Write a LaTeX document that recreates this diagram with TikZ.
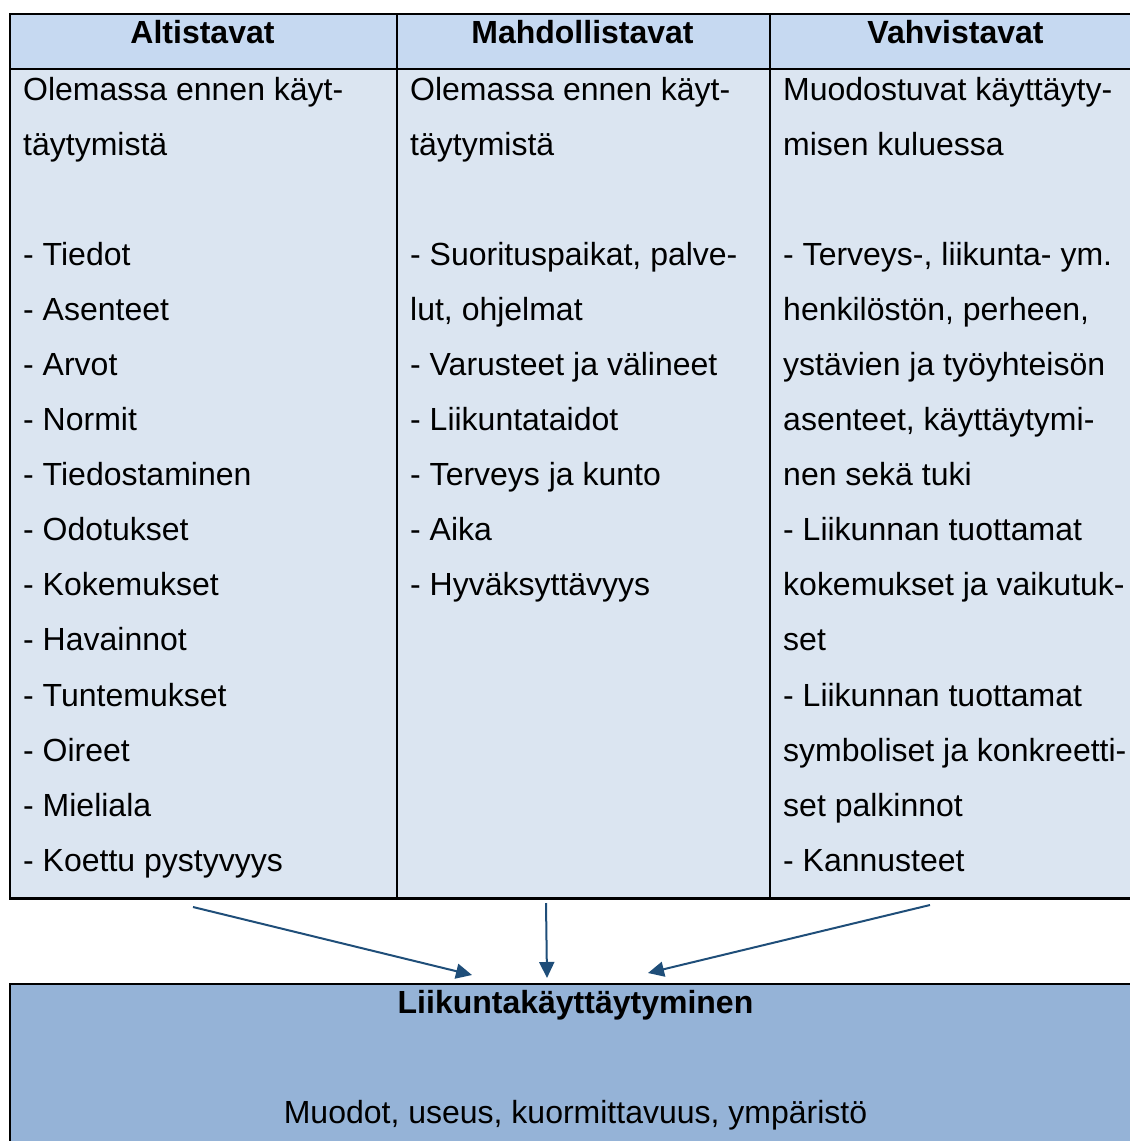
\documentclass[tikz,border=0pt]{standalone}
\usepackage{fontspec}
\setmainfont{Liberation Sans}
\usetikzlibrary{arrows.meta}
\definecolor{hdr}{HTML}{C6D9F1}
\definecolor{cell}{HTML}{DBE5F1}
\definecolor{res}{HTML}{95B3D7}
\definecolor{arr}{HTML}{1F4E79}
\begin{document}
\begin{tikzpicture}[x=1pt,y=-1pt,
  txt/.style={anchor=base west,inner sep=0pt,font=\fontsize{32}{38}\selectfont},
  hd/.style={anchor=base,inner sep=0pt,font=\fontsize{32}{38}\selectfont\bfseries},
  cellbox/.style={draw=black,line width=2pt,anchor=north west,inner sep=0pt},
  conn/.style={draw=arr,line width=2pt,-{Triangle[length=16pt,width=15pt]}}]
\useasboundingbox (0,0) rectangle (1130,1141);
% header cells
\node[cellbox,fill=hdr,minimum width=387pt,minimum height=55pt] (hA) at (9,13) {};
\node[cellbox,fill=hdr,minimum width=373pt,minimum height=55pt] (hB) at (396,13) {};
\node[cellbox,fill=hdr,minimum width=373pt,minimum height=55pt] (hC) at (769,13) {};
% body cells
\node[cellbox,fill=cell,minimum width=387pt,minimum height=830pt] (cA) at (9,68) {};
\node[cellbox,fill=cell,minimum width=373pt,minimum height=830pt] (cB) at (396,68) {};
\node[cellbox,fill=cell,minimum width=373pt,minimum height=830pt] (cC) at (769,68) {};
\draw[line width=2.5pt] (9,898) -- (1142,898);
% result box
\node[cellbox,fill=res,minimum width=1133pt,minimum height=180pt] (res) at (9,983) {};
% headers
\node[hd] (tA) at (202.5,43) {Altistavat};
\node[hd] (tB) at (582.5,43) {Mahdollistavat};
\node[hd] (tC) at (955.5,43) {Vahvistavat};
% column A
\foreach \yy/\lbl in {100/{Olemassa ennen käyt-},155/{täytymistä},265/{- Tiedot},320/{- Asenteet},375/{- Arvot},430/{- Normit},485/{- Tiedostaminen},540/{- Odotukset},595/{- Kokemukset},650/{- Havainnot},706/{- Tuntemukset},761/{- Oireet},816/{- Mieliala},871/{- Koettu pystyvyys}}
  \node[txt] (a-\yy) at (23,\yy) {\lbl};
% column B
\foreach \yy/\lbl in {100/{Olemassa ennen käyt-},155/{täytymistä},265/{- Suorituspaikat, palve-},320/{lut, ohjelmat},375/{- Varusteet ja välineet},430/{- Liikuntataidot},485/{- Terveys ja kunto},540/{- Aika},595/{- Hyväksyttävyys}}
  \node[txt] (b-\yy) at (410,\yy) {\lbl};
% column C
\foreach \yy/\lbl in {100/{Muodostuvat käyttäyty-},155/{misen kuluessa},265/{- Terveys-, liikunta- ym.},320/{henkilöstön, perheen,},375/{ystävien ja työyhteisön},430/{asenteet, käyttäytymi-},485/{nen sekä tuki},540/{- Liikunnan tuottamat},595/{kokemukset ja vaikutuk-},650/{set},706/{- Liikunnan tuottamat},761/{symboliset ja konkreetti-},816/{set palkinnot},871/{- Kannusteet}}
  \node[txt] (c-\yy) at (783,\yy) {\lbl};
% result texts
\node[hd] (r1) at (575.5,1013) {Liikuntakäyttäytyminen};
\node[hd,font=\fontsize{32}{38}\selectfont] (r2) at (575.5,1123) {Muodot, useus, kuormittavuus, ympäristö};
% arrows
\coordinate (s1) at (193,907);
\coordinate (e1) at (472,975);
\coordinate (s2) at (546,903);
\coordinate (e2) at (547,978);
\coordinate (s3) at (930,905);
\coordinate (e3) at (648,973);
\draw[conn] (s1) -- (e1);
\draw[conn] (s2) -- (e2);
\draw[conn] (s3) -- (e3);
\end{tikzpicture}
\end{document}
